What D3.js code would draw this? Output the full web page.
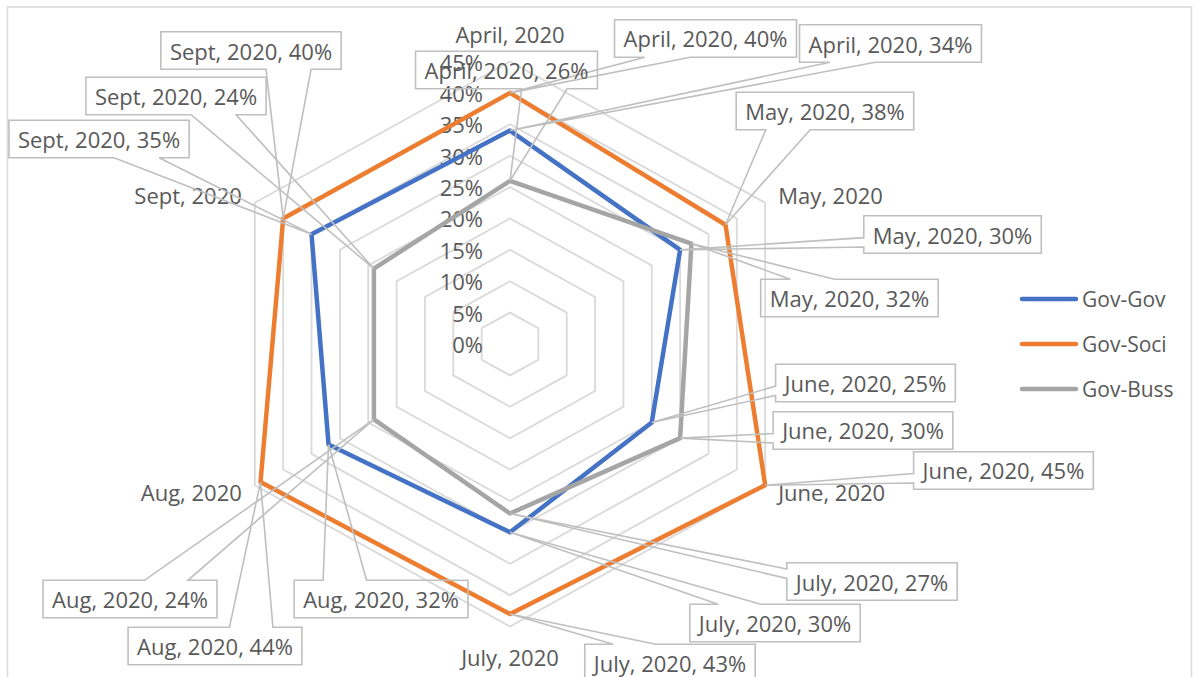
<!DOCTYPE html>
<html>
<head>
<meta charset="utf-8">
<script src="https://cdn.jsdelivr.net/npm/d3@7"></script>
<style>
  html, body { margin: 0; padding: 0; background: #ffffff; }
  svg { display: block; }
  text { font-family: "Open Sans", "Liberation Sans", sans-serif; }
</style>
</head>
<body>
<svg id="chart" width="1197" height="677"></svg>
<script>
// ---------- data ----------
const categories = ["April, 2020", "May, 2020", "June, 2020", "July, 2020", "Aug, 2020", "Sept, 2020"];
const seriesNames = ["Gov-Gov", "Gov-Soci", "Gov-Buss"];
const govGov  = [34, 30, 25, 30, 32, 35];
const govSoci = [40, 38, 45, 43, 44, 40];
const govBuss = [26, 32, 30, 27, 24, 24];
const tickValues = [0, 5, 10, 15, 20, 25, 30, 35, 40, 45];
const tickLabels = ["0%", "5%", "10%", "15%", "20%", "25%", "30%", "35%", "40%", "45%"];

// ---------- layout ----------
const W = 1197, H = 677;
const cx = 510, cy = 344;
const radiusY = 282.5;      // radius for 45% vertically
const stretchX = 1.043;     // horizontal stretch of the picture
const fontSize = 22;
const colors = { "Gov-Gov": "#4472C4", "Gov-Soci": "#ED7D31", "Gov-Buss": "#A5A5A5" };
const textColor = "#595959";

// label offsets (box centre relative to its data point), per series per category
const labelOffsets = {
  "Gov-Gov":  [[380.5, -87], [272.4, -15.3], [213.7, -39.5], [265, 90.7], [52.5, 154.6], [-212.5, -95.1]],
  "Gov-Soci": [[195.5, -54.4], [99.5, -113.7], [238.3, -14.8], [160, 49], [-45.5, 163.9], [-32.2, -167.9]],
  "Gov-Buss": [[-3.5, -110.8], [158, 54.4], [182.9, -7.7], [362, 68], [-243.9, 179.7], [-197.9, -172.7]]
};

const svg = d3.select("#chart");

// chart border
svg.append("rect")
  .attr("x", 7.5).attr("y", 7).attr("width", 1184).attr("height", 690)
  .attr("fill", "none").attr("stroke", "#d9d9d9").attr("stroke-width", 1.5);

const r = d3.scaleLinear().domain([0, 45]).range([0, radiusY]);
const angle = d3.scaleLinear().domain([0, categories.length]).range([0, 2 * Math.PI]);

function pt(i, v) {
  const a = angle(i);
  return [cx + r(v) * stretchX * Math.sin(a), cy - r(v) * Math.cos(a)];
}

// gridlines
const grid = svg.append("g");
tickValues.filter(t => t > 0).forEach(t => {
  const pts = categories.map((c, i) => pt(i, t));
  grid.append("path")
    .attr("d", d3.line().curve(d3.curveLinearClosed)(pts))
    .attr("fill", "none").attr("stroke", "#d9d9d9").attr("stroke-width", 1.8);
});

// axis tick labels
svg.append("g").selectAll("text").data(tickValues).join("text")
  .attr("x", cx - 27)
  .attr("y", d => cy - r(d))
  .attr("text-anchor", "end")
  .attr("dominant-baseline", "central")
  .attr("font-size", fontSize)
  .attr("fill", textColor)
  .text((d, i) => tickLabels[i]);

// category labels
svg.append("g").selectAll("text").data(categories).join("text")
  .each(function (d, i) {
    const [x, y] = pt(i, 45);
    const a = angle(i);
    const s = Math.sin(a), c = Math.cos(a);
    let tx = x, ty = y, anchor = "middle";
    if (Math.abs(s) < 0.01) { ty = y + (c > 0 ? -28 : 30); }
    else {
      anchor = s > 0 ? "start" : "end";
      tx = x + (s > 0 ? 13 : -13);
      ty = y + (c > 0 ? -8 : 7);
    }
    d3.select(this).attr("x", tx).attr("y", ty).attr("text-anchor", anchor);
  })
  .attr("dominant-baseline", "central")
  .attr("font-size", fontSize)
  .attr("fill", textColor)
  .text(d => d);

// series
const seriesData = { "Gov-Gov": govGov, "Gov-Soci": govSoci, "Gov-Buss": govBuss };
const seriesG = svg.append("g");
seriesNames.forEach(name => {
  const vals = seriesData[name];
  seriesG.append("path")
    .attr("d", d3.line().curve(d3.curveLinearClosed)(vals.map((v, i) => pt(i, v))))
    .attr("fill", "none")
    .attr("stroke", colors[name])
    .attr("stroke-width", 4.5)
    .attr("stroke-linejoin", "round");
});

// callout (wedgeRectCallout) path
function calloutPath(x0, y0, w, h, tx, ty) {
  const dxPos = tx - (x0 + w / 2), dyPos = ty - (y0 + h / 2);
  const dx = dxPos * h / w, dy = dyPos;
  const x1 = x0 + w * (dxPos > 0 ? 7 : 2) / 12, x2 = x0 + w * (dxPos > 0 ? 10 : 5) / 12;
  const y1 = y0 + h * (dyPos > 0 ? 7 : 2) / 12, y2 = y0 + h * (dyPos > 0 ? 10 : 5) / 12;
  const side = Math.abs(dx) > Math.abs(dy) ? (dxPos > 0 ? "r" : "l") : (dyPos > 0 ? "b" : "t");
  const p = d3.path();
  p.moveTo(x0, y0);
  if (side === "t") { p.lineTo(x1, y0); p.lineTo(tx, ty); p.lineTo(x2, y0); }
  p.lineTo(x0 + w, y0);
  if (side === "r") { p.lineTo(x0 + w, y1); p.lineTo(tx, ty); p.lineTo(x0 + w, y2); }
  p.lineTo(x0 + w, y0 + h);
  if (side === "b") { p.lineTo(x2, y0 + h); p.lineTo(tx, ty); p.lineTo(x1, y0 + h); }
  p.lineTo(x0, y0 + h);
  if (side === "l") { p.lineTo(x0, y2); p.lineTo(tx, ty); p.lineTo(x0, y1); }
  p.closePath();
  return p.toString();
}

// data labels
const labelG = svg.append("g");
seriesNames.forEach(name => {
  const vals = seriesData[name];
  vals.forEach((v, i) => {
    const [px, py] = pt(i, v);
    const [ox, oy] = labelOffsets[name][i];
    const bx = px + ox, by = py + oy;
    const g = labelG.append("g");
    const path = g.append("path");
    const t = g.append("text")
      .attr("x", bx).attr("y", by)
      .attr("text-anchor", "middle")
      .attr("dominant-baseline", "central")
      .attr("font-size", fontSize)
      .attr("fill", textColor)
      .text(`${categories[i]}, ${v}%`);
    const tw = t.node().getComputedTextLength();
    const w = tw + 18, h = 37.5;
    path.attr("d", calloutPath(bx - w / 2, by - h / 2, w, h, px, py))
      .attr("fill", "none")
      .attr("stroke", "#bfbfbf")
      .attr("stroke-width", 1.6);
  });
});

// legend
const legend = svg.append("g");
seriesNames.forEach((name, k) => {
  const y = 299 + k * 45;
  legend.append("line")
    .attr("x1", 1022).attr("x2", 1076).attr("y1", y).attr("y2", y)
    .attr("stroke", colors[name]).attr("stroke-width", 4.5).attr("stroke-linecap", "round");
  legend.append("text")
    .attr("x", 1082).attr("y", y)
    .attr("dominant-baseline", "central")
    .attr("font-size", fontSize - 1)
    .attr("fill", textColor)
    .text(name);
});
</script>
</body>
</html>
